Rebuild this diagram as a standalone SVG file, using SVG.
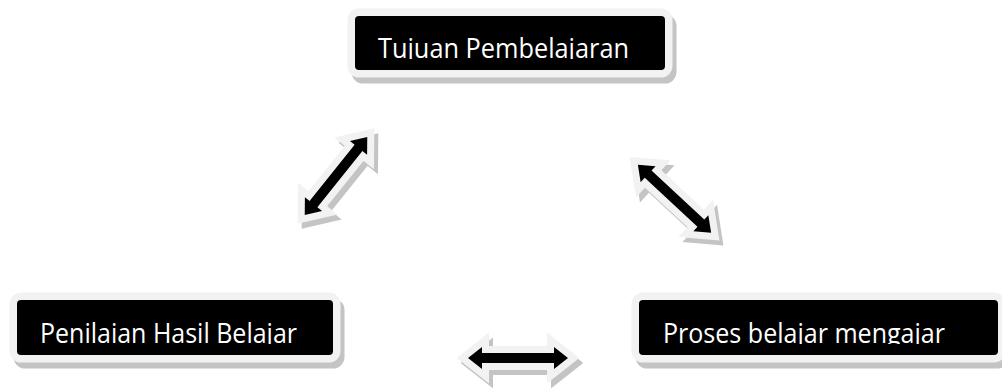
<svg xmlns="http://www.w3.org/2000/svg" width="1002" height="388" viewBox="0 0 1002 388">
  <style>
    .frame { fill: #000; stroke: #f2f2f2; stroke-width: 15; stroke-linejoin: round; paint-order: stroke fill; }
    .shadow { fill: #c4c4c4; stroke: #c4c4c4; stroke-width: 15; stroke-linejoin: round; }
    .arrow-frame { fill: #f2f2f2; stroke: #f2f2f2; stroke-width: 14; stroke-linejoin: miter; stroke-miterlimit: 10; }
    .arrow-shadow { fill: #c4c4c4; stroke: #c4c4c4; stroke-width: 14; stroke-linejoin: miter; stroke-miterlimit: 10; }
    .arrow-core { fill: #000; }
    .label { fill: #fff; font-family: "Open Sans", "Noto Sans", "Liberation Sans", sans-serif; font-size: 27px; }
  </style>
  <defs>
    <path id="dbl" d="M -50,0 L -36,-11 L -36,-5 L 36,-5 L 36,-11 L 50,0 L 36,11 L 36,5 L -36,5 L -36,11 Z"/>
    <clipPath id="clipTop"><rect x="355" y="16" width="310" height="43"/></clipPath>
    <clipPath id="clipLeft"><rect x="17" y="300" width="316" height="44"/></clipPath>
    <clipPath id="clipRight"><rect x="639" y="300" width="359" height="44"/></clipPath>
  </defs>

  <g id="connectors">
    <g id="arrow-left" transform="translate(336,176) rotate(-51.3)">
      <use href="#dbl" class="arrow-shadow" transform="rotate(51.3) translate(4,5) rotate(-51.3)"/>
      <use href="#dbl" class="arrow-frame"/>
      <use href="#dbl" class="arrow-core"/>
    </g>
    <g id="arrow-right" transform="translate(674.5,198.7) rotate(42.9)">
      <use href="#dbl" class="arrow-shadow" transform="rotate(-42.9) translate(4,5) rotate(42.9)"/>
      <use href="#dbl" class="arrow-frame"/>
      <use href="#dbl" class="arrow-core"/>
    </g>
    <g id="arrow-bottom" transform="translate(518,358)">
      <use href="#dbl" class="arrow-shadow" transform="translate(4,5)"/>
      <use href="#dbl" class="arrow-frame"/>
      <use href="#dbl" class="arrow-core"/>
    </g>
  </g>

  <g id="node-tujuan">
    <rect class="shadow" x="359" y="22" width="310" height="54" rx="4"/>
    <rect class="frame" x="355" y="16" width="310" height="54" rx="4"/>
    <text class="label" x="378" y="58" textLength="251" lengthAdjust="spacingAndGlyphs" clip-path="url(#clipTop)">Tujuan Pembelajaran</text>
  </g>

  <g id="node-penilaian">
    <rect class="shadow" x="21" y="306" width="316" height="55" rx="4"/>
    <rect class="frame" x="17" y="300" width="316" height="55" rx="4"/>
    <text class="label" x="40" y="343" textLength="257" lengthAdjust="spacingAndGlyphs" clip-path="url(#clipLeft)">Penilaian Hasil Belajar</text>
  </g>

  <g id="node-proses">
    <rect class="shadow" x="643" y="306" width="359" height="55" rx="4"/>
    <rect class="frame" x="639" y="300" width="359" height="55" rx="4"/>
    <text class="label" x="663" y="343" textLength="282" lengthAdjust="spacingAndGlyphs" clip-path="url(#clipRight)">Proses belajar mengajar</text>
  </g>
</svg>
